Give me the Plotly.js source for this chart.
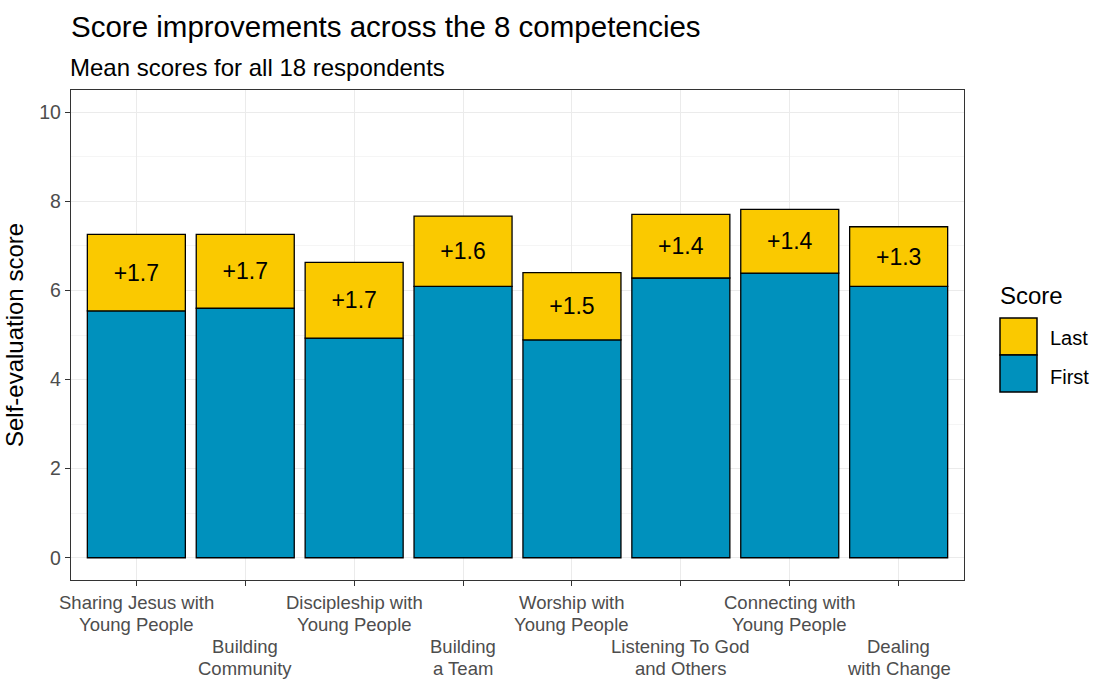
<!DOCTYPE html>
<html>
<head>
<meta charset="utf-8">
<script src="https://cdn.plot.ly/plotly-3.0.1.min.js"></script>
<style>html,body{margin:0;padding:0;background:#fff;}#chart{width:1093px;height:680px;}</style>
</head>
<body>
<div id="chart"></div>
<script>
// Data
const competencies = [
  "Sharing Jesus with\nYoung People",
  "Building\nCommunity",
  "Discipleship with\nYoung People",
  "Building\na Team",
  "Worship with\nYoung People",
  "Listening To God\nand Others",
  "Connecting with\nYoung People",
  "Dealing\nwith Change"
];
const firstScores = [5.54, 5.60, 4.93, 6.09, 4.89, 6.28, 6.39, 6.09];
const lastScores  = [7.26, 7.26, 6.63, 7.67, 6.40, 7.71, 7.82, 7.43];
const yTickVals = [0, 2, 4, 6, 8, 10];
const seriesNames = ["First", "Last"];
const seriesColors = {First: "#0091BD", Last: "#FAC900"};

const FONT = "Liberation Sans, Arial, sans-serif";
const idx = competencies.map((_, i) => i + 1);
const gains = lastScores.map((v, i) => v - firstScores[i]);
const gainLabels = gains.map(g => "+" + g.toFixed(1));

const traceFirst = {
  type: "bar", name: "First", x: idx, y: firstScores,
  width: 0.9, showlegend: false,
  marker: {color: seriesColors.First, line: {color: "#000000", width: 1.3}},
  hoverinfo: "skip"
};
const traceLast = {
  type: "bar", name: "Last", x: idx, y: gains, base: firstScores,
  width: 0.9, showlegend: false,
  text: gainLabels, textposition: "inside", insidetextanchor: "middle",
  textangle: 0, constraintext: "none",
  textfont: {family: FONT, size: 23, color: "#000000"},
  marker: {color: seriesColors.Last, line: {color: "#000000", width: 1.3}},
  hoverinfo: "skip"
};

// Category labels, dodged over two rows
const annotations = [];
competencies.forEach((lab, i) => {
  const lines = lab.split("\n");
  const row = i % 2;
  const shifts = row === 0 ? [-22.5, -44] : [-66.5, -88];
  lines.forEach((ln, j) => {
    annotations.push({
      x: idx[i], xref: "x", y: 0, yref: "paper", yshift: shifts[j],
      text: ln, showarrow: false, xanchor: "center", yanchor: "middle",
      borderpad: 0,
      font: {family: FONT, size: 18.5, color: "#4D4D4D"}
    });
  });
});
annotations.push({
  x: 0, xref: "paper", xshift: -3, y: 1.045, yref: "paper", xanchor: "left", yanchor: "middle",
  text: "Mean scores for all 18 respondents", showarrow: false,
  font: {family: FONT, size: 24, color: "#000000"}
});

// Legend drawn as keys + labels (ggplot-style large keys)
const px2x = px => (px - 71) / 893;
const px2y = py => (580 - py) / 490;
const shapes = [
  {type: "rect", xref: "paper", yref: "paper", x0: px2x(1000), x1: px2x(1037), y0: px2y(355), y1: px2y(318),
   fillcolor: seriesColors.Last, line: {color: "#000000", width: 1.5}},
  {type: "rect", xref: "paper", yref: "paper", x0: px2x(1000), x1: px2x(1037), y0: px2y(392), y1: px2y(355),
   fillcolor: seriesColors.First, line: {color: "#000000", width: 1.5}}
];
annotations.push({
  x: px2x(1000), xref: "paper", xshift: -2, y: px2y(295), yref: "paper", xanchor: "left", yanchor: "middle",
  text: "Score", showarrow: false, font: {family: FONT, size: 24, color: "#000000"}
});
annotations.push({
  x: px2x(1048), xref: "paper", y: px2y(338), yref: "paper", xanchor: "left", yanchor: "middle",
  text: seriesNames[1], showarrow: false, font: {family: FONT, size: 20, color: "#000000"}
});
annotations.push({
  x: px2x(1048), xref: "paper", y: px2y(377), yref: "paper", xanchor: "left", yanchor: "middle",
  text: seriesNames[0], showarrow: false, font: {family: FONT, size: 20, color: "#000000"}
});

const layout = {
  width: 1093, height: 680,
  margin: {l: 71, r: 129, t: 90, b: 100},
  paper_bgcolor: "#FFFFFF", plot_bgcolor: "#FFFFFF",
  barmode: "overlay",
  showlegend: false,
  title: {
    text: "Score improvements across the 8 competencies",
    x: 0, xref: "paper", xanchor: "left", y: 1 - 27/680, yanchor: "middle",
    font: {family: FONT, size: 29.5, color: "#000000"}
  },
  xaxis: {
    range: [0.4, 8.6], tickvals: idx, ticktext: idx.map(() => ""),
    showticklabels: false, ticks: "outside", ticklen: 5, tickcolor: "#333333", tickwidth: 1,
    showgrid: true, gridcolor: "#EBEBEB", gridwidth: 1,
    showline: true, linecolor: "#333333", linewidth: 1.2, mirror: true,
    zeroline: false, fixedrange: true
  },
  yaxis: {
    range: [-0.5, 10.5], tickvals: yTickVals,
    ticks: "outside", ticklen: 5, tickcolor: "#333333", tickwidth: 1,
    tickfont: {family: FONT, size: 19.5, color: "#4D4D4D"},
    showgrid: true, gridcolor: "#EBEBEB", gridwidth: 1,
    minor: {dtick: 1, tick0: 0, showgrid: true, gridcolor: "#F3F3F3", gridwidth: 0.8, ticks: ""},
    showline: true, linecolor: "#333333", linewidth: 1.2, mirror: true,
    zeroline: false, fixedrange: true,
    title: {text: "Self-evaluation score", standoff: 8,
            font: {family: FONT, size: 24, color: "#000000"}}
  },
  shapes: shapes,
  annotations: annotations
};

Plotly.newPlot("chart", [traceFirst, traceLast], layout, {displayModeBar: false, staticPlot: true});
</script>
</body>
</html>
